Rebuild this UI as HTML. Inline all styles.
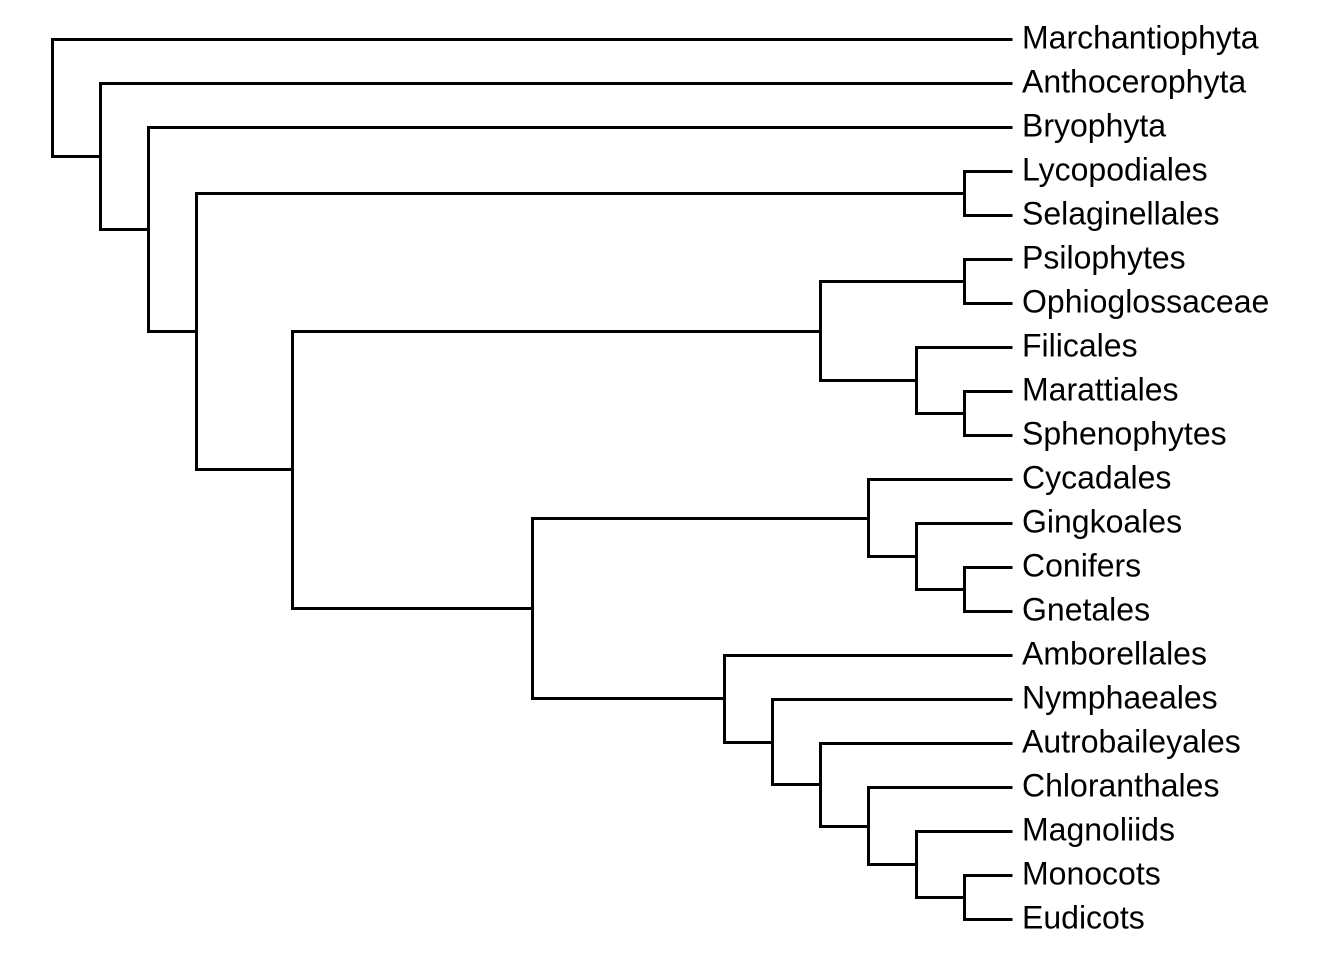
<!DOCTYPE html>
<html>
<head>
<meta charset="utf-8">
<style>
  html,body{margin:0;padding:0;background:#fff;}
  svg{display:block;}
  text{font-family:"Liberation Sans",Arial,Helvetica,sans-serif;font-size:32px;fill:#000;}
</style>
</head>
<body>
<svg width="1344" height="960" viewBox="0 0 1344 960" xmlns="http://www.w3.org/2000/svg">
<g transform="translate(-0.5,0.5)" fill="none" stroke="#000" stroke-width="3" stroke-linejoin="miter" stroke-linecap="butt">
  <polyline points="1013,39 53,39 53,156 101,156"/>
  <polyline points="1013,83 101,83 101,229 149,229"/>
  <polyline points="1013,127 149,127 149,331 197,331"/>
  <polyline points="965,193 197,193 197,469 293,469"/>
  <polyline points="1013,171 965,171 965,215 1013,215"/>
  <polyline points="821,331 293,331 293,608 533,608"/>
  <polyline points="965,281 821,281 821,380 917,380"/>
  <polyline points="1013,259 965,259 965,303 1013,303"/>
  <polyline points="1013,347 917,347 917,413 965,413"/>
  <polyline points="1013,391 965,391 965,435 1013,435"/>
  <polyline points="869,518 533,518 533,698 725,698"/>
  <polyline points="1013,479 869,479 869,556 917,556"/>
  <polyline points="1013,523 917,523 917,589 965,589"/>
  <polyline points="1013,567 965,567 965,611 1013,611"/>
  <polyline points="1013,655 725,655 725,742 773,742"/>
  <polyline points="1013,699 773,699 773,784 821,784"/>
  <polyline points="1013,743 821,743 821,826 869,826"/>
  <polyline points="1013,787 869,787 869,864 917,864"/>
  <polyline points="1013,831 917,831 917,897 965,897"/>
  <polyline points="1013,875 965,875 965,919 1013,919"/>
</g>
<g>
  <text x="1022" y="48.5">Marchantiophyta</text>
  <text x="1022" y="92.5">Anthocerophyta</text>
  <text x="1022" y="136.5">Bryophyta</text>
  <text x="1022" y="180.5">Lycopodiales</text>
  <text x="1022" y="224.5">Selaginellales</text>
  <text x="1022" y="268.5">Psilophytes</text>
  <text x="1022" y="312.5">Ophioglossaceae</text>
  <text x="1022" y="356.5">Filicales</text>
  <text x="1022" y="400.5">Marattiales</text>
  <text x="1022" y="444.5">Sphenophytes</text>
  <text x="1022" y="488.5">Cycadales</text>
  <text x="1022" y="532.5">Gingkoales</text>
  <text x="1022" y="576.5">Conifers</text>
  <text x="1022" y="620.5">Gnetales</text>
  <text x="1022" y="664.5">Amborellales</text>
  <text x="1022" y="708.5">Nymphaeales</text>
  <text x="1022" y="752.5">Autrobaileyales</text>
  <text x="1022" y="796.5">Chloranthales</text>
  <text x="1022" y="840.5">Magnoliids</text>
  <text x="1022" y="884.5">Monocots</text>
  <text x="1022" y="928.5">Eudicots</text>
</g>
</svg>
</body>
</html>
